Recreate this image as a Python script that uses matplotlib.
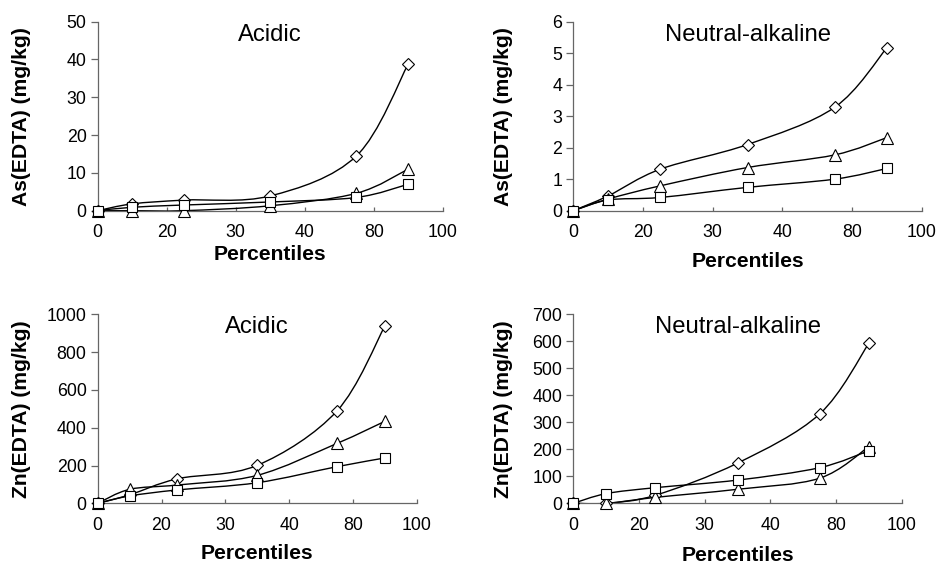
import matplotlib
matplotlib.use("Agg")
import matplotlib.pyplot as plt
import numpy as np
from matplotlib.path import Path
from matplotlib.patches import PathPatch

plt.rcParams["font.family"] = ["Liberation Sans", "DejaVu Sans"]

# percentile positions and the (odd) tick labels printed on the x axis
percentiles = [0, 10, 25, 50, 75, 90]
x_ticks = [0, 20, 40, 60, 80, 100]
x_tick_labels = ["0", "20", "30", "40", "80", "100"]

# As(EDTA), acidic soils
as_acid_diamond = [0, 1.8, 2.8, 3.9, 14.5, 38.8]
as_acid_triangle = [0, 0, 0, 1.3, 4.6, 11.0]
as_acid_square = [0, 0.9, 1.5, 2.3, 3.5, 7.0]

# As(EDTA), neutral-alkaline soils
as_neut_diamond = [0, 0.47, 1.32, 2.1, 3.28, 5.17]
as_neut_triangle = [0, 0.37, 0.79, 1.37, 1.77, 2.32]
as_neut_square = [0, 0.34, 0.42, 0.74, 1.0, 1.34]

# Zn(EDTA), acidic soils
zn_acid_diamond = [0, 45, 130, 201, 489, 938]
zn_acid_triangle = [0, 74, 97, 148, 317, 434]
zn_acid_square = [0, 39, 71, 109, 194, 240]

# Zn(EDTA), neutral-alkaline soils
zn_neut_diamond = [0, 0, 30, 149, 331, 593]
zn_neut_triangle = [0, 0, 22, 52, 93, 210]
zn_neut_square = [0, 36, 58, 86, 132, 195]

TICK_SIZE = 12.8
TITLE_SIZE = 17.2
LABEL_SIZE = 15.2


def smooth_path(x, y):
    # Catmull-Rom style Bezier through the points, like Excel's smoothed lines
    pts = np.column_stack([x, y]).astype(float)
    n = len(pts)
    verts = [pts[0]]
    codes = [Path.MOVETO]
    for i in range(n - 1):
        p0 = pts[max(i - 1, 0)]
        p1 = pts[i]
        p2 = pts[i + 1]
        p3 = pts[min(i + 2, n - 1)]
        c1 = p1 + (p2 - p0) / 6.0
        c2 = p2 - (p3 - p1) / 6.0
        verts += [c1, c2, p2]
        codes += [Path.CURVE4] * 3
    return Path(verts, codes)


def draw_panel(ax, series, title, ylabel, ymax, ystep, ylab_x, xlab_y):
    markers = [("D", 6.0), ("^", 8.0), ("s", 6.5)]
    for values, (mk, ms) in zip(series, markers):
        patch = PathPatch(smooth_path(percentiles, values), fill=False,
                          edgecolor="black", linewidth=1.0, zorder=2)
        ax.add_patch(patch)
        ax.plot(percentiles, values, linestyle="none", marker=mk, markersize=ms,
                markerfacecolor="white", markeredgecolor="black",
                markeredgewidth=0.8, zorder=3, clip_on=False)

    ax.set_xlim(0, 100)
    ax.set_ylim(0, ymax)
    ax.set_xticks(x_ticks)
    ax.set_xticklabels(x_tick_labels)
    ax.set_yticks(np.arange(0, ymax + ystep / 2, ystep))
    for side in ("top", "right"):
        ax.spines[side].set_visible(False)
    for side in ("left", "bottom"):
        ax.spines[side].set_color("#666666")
        ax.spines[side].set_linewidth(0.9)
    ax.tick_params(axis="y", direction="out", length=5, width=0.9,
                   color="#666666", labelsize=TICK_SIZE, pad=3)
    ax.tick_params(axis="x", direction="in", length=3, width=0.9,
                   color="#666666", labelsize=TICK_SIZE, pad=9.5)

    ax.text(0.5, 0.99, title, transform=ax.transAxes, ha="center", va="top",
            fontsize=TITLE_SIZE)
    ax.set_ylabel(ylabel, fontsize=LABEL_SIZE, fontweight="bold")
    ax.yaxis.label.set_verticalalignment("center")
    ax.yaxis.set_label_coords(ylab_x, 0.5)
    ax.set_xlabel("Percentiles", fontsize=LABEL_SIZE, fontweight="bold")
    ax.xaxis.label.set_verticalalignment("center")
    ax.xaxis.set_label_coords(0.5, xlab_y)


fig = plt.figure(figsize=(9.37, 5.63), dpi=100)

ax1 = fig.add_axes([0.1043, 0.6258, 0.3682, 0.3357])
ax2 = fig.add_axes([0.6119, 0.6258, 0.3718, 0.3357])
ax3 = fig.add_axes([0.1043, 0.1060, 0.3405, 0.3357])
ax4 = fig.add_axes([0.6119, 0.1060, 0.3505, 0.3357])

draw_panel(ax1, [as_acid_diamond, as_acid_triangle, as_acid_square],
           "Acidic", "As(EDTA) (mg/kg)", 50, 10, -0.22, -0.23)
draw_panel(ax2, [as_neut_diamond, as_neut_triangle, as_neut_square],
           "Neutral-alkaline", "As(EDTA) (mg/kg)", 6, 1, -0.20, -0.27)
draw_panel(ax3, [zn_acid_diamond, zn_acid_triangle, zn_acid_square],
           "Acidic", "Zn(EDTA) (mg/kg)", 1000, 200, -0.24, -0.265)
draw_panel(ax4, [zn_neut_diamond, zn_neut_triangle, zn_neut_square],
           "Neutral-alkaline", "Zn(EDTA) (mg/kg)", 700, 100, -0.213, -0.274)

fig.savefig("out.png", dpi=100)
